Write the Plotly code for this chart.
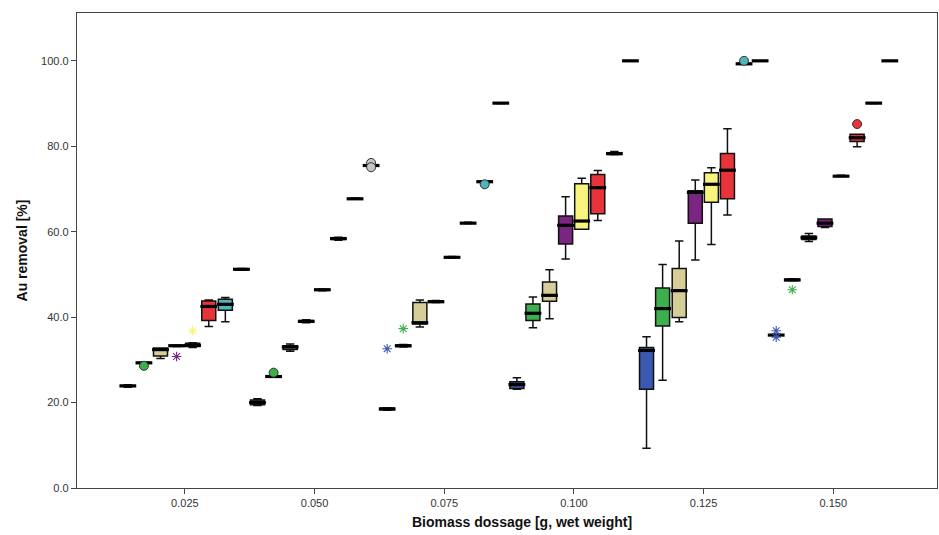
import plotly.graph_objects as go

# Biomass dose positions (g, wet weight)
doses = [0.0140, 0.0171, 0.0203, 0.0234, 0.0265, 0.0296, 0.0328, 0.0359,
         0.0390, 0.0421, 0.0453, 0.0484, 0.0515, 0.0546, 0.0578, 0.0609,
         0.0640, 0.0671, 0.0703, 0.0734, 0.0765, 0.0796, 0.0828, 0.0859,
         0.0890, 0.0921, 0.0953, 0.0984, 0.1015, 0.1046, 0.1078, 0.1109,
         0.1140, 0.1171, 0.1203, 0.1234, 0.1265, 0.1296, 0.1328, 0.1359,
         0.1390, 0.1421, 0.1453, 0.1484, 0.1515, 0.1546, 0.1578, 0.1609]

lower = [23.6, 29.2, 30.3, 33.1, 32.9, 37.8, 38.9, 51.0,
         19.3, 26.0, 32.0, 38.7, 46.2, 58.0, 67.6, 75.4,
         18.2, 33.0, 37.7, 43.4, 53.9, 61.9, 71.6, 90.0,
         23.1, 37.5, 39.6, 53.6, 60.6, 62.6, 78.0, 100.0,
         9.3, 25.2, 38.9, 53.4, 57.0, 63.9, 99.2, 100.0,
         35.7, 48.5, 57.7, 61.0, 72.9, 79.9, 90.0, 100.0]
q1 = [23.8, 29.3, 30.9, 33.2, 33.1, 39.2, 41.6, 51.1,
      19.5, 26.1, 32.4, 38.9, 46.3, 58.2, 67.7, 75.5,
      18.3, 33.1, 38.4, 43.5, 54.0, 62.0, 71.7, 90.1,
      23.3, 39.2, 43.7, 57.1, 60.6, 64.2, 78.1, 100.0,
      23.1, 37.9, 39.9, 62.0, 66.9, 67.7, 99.2, 100.0,
      35.8, 48.6, 58.2, 61.2, 73.0, 81.1, 90.1, 100.0]
median = [23.9, 29.3, 32.4, 33.3, 33.4, 42.5, 43.0, 51.2,
          20.0, 26.1, 33.0, 39.0, 46.4, 58.4, 67.7, 75.5,
          18.5, 33.3, 38.7, 43.6, 54.0, 62.0, 71.7, 90.1,
          24.2, 40.9, 45.1, 61.5, 62.5, 70.3, 78.3, 100.0,
          32.2, 42.0, 46.2, 69.2, 71.1, 74.4, 99.3, 100.0,
          35.8, 48.7, 58.6, 62.0, 73.0, 82.0, 90.1, 100.0]
q3 = [24.0, 29.4, 32.8, 33.4, 33.9, 43.8, 44.2, 51.3,
      20.6, 26.2, 33.3, 39.2, 46.5, 58.6, 67.8, 75.5,
      18.7, 33.5, 43.4, 43.8, 54.1, 62.1, 71.8, 90.1,
      24.9, 43.1, 48.2, 63.7, 71.2, 73.4, 78.5, 100.0,
      32.9, 46.8, 51.4, 69.6, 73.8, 78.3, 99.4, 100.0,
      35.9, 48.9, 59.0, 63.0, 73.1, 82.8, 90.2, 100.0]
upper = [24.2, 29.4, 32.8, 33.5, 34.0, 44.0, 44.6, 51.4,
         20.9, 26.3, 33.7, 39.4, 46.6, 58.7, 67.9, 75.6,
         18.8, 33.6, 44.0, 43.9, 54.2, 62.2, 71.9, 90.2,
         25.8, 44.7, 51.1, 68.2, 72.5, 74.3, 78.8, 100.0,
         35.4, 52.3, 57.8, 72.1, 75.0, 84.1, 99.5, 100.0,
         36.0, 49.0, 59.6, 63.0, 73.2, 82.8, 90.2, 100.0]

# colour cycle of the 8 series within each group
palette = ["#3C59B2", "#3DAF4C", "#D7CD99", "#7A2581",
           "#F8F37C", "#E8333B", "#4FB5BC", "#C4C4C4"]

# outliers: (box index, value, kind)
out_idx = [1, 3, 4, 9, 15, 15, 16, 17, 22, 38, 40, 40, 41, 45]
out_val = [28.6, 30.8, 36.8, 27.0, 76.1, 75.1, 32.6, 37.3, 71.1, 100.0, 36.8, 35.3, 46.4, 85.2]
out_kind = ["o", "*", "*", "o", "o", "o", "*", "*", "o", "o", "*", "*", "*", "o"]

BOX_W = 0.0027

fig = go.Figure()
for i, x in enumerate(doses):
    col = palette[i % 8]
    fig.add_trace(go.Box(
        x=[x], q1=[q1[i]], median=[median[i]], q3=[q3[i]],
        lowerfence=[lower[i]], upperfence=[upper[i]],
        width=BOX_W, whiskerwidth=0.6, fillcolor=col,
        line=dict(color="#111111", width=1.5),
        showlegend=False, hoverinfo="skip"))

# thick median bars
fig.add_trace(go.Scatter(
    x=doses, y=median, mode="markers",
    marker=dict(symbol="line-ew", size=12, line=dict(color="#000000", width=3.2)),
    showlegend=False, hoverinfo="skip"))

# outliers
for k, i in enumerate(out_idx):
    col = palette[i % 8]
    if out_kind[k] == "o":
        mk = dict(symbol="circle", size=9, color=col, line=dict(color="#333333", width=1))
    else:
        mk = dict(symbol="asterisk-open", size=8, color=col, line=dict(color=col, width=1.1))
    fig.add_trace(go.Scatter(x=[doses[i]], y=[out_val[k]], mode="markers",
                             marker=mk, showlegend=False, hoverinfo="skip"))

axis_font = dict(family="Liberation Sans, Arial, sans-serif", size=11, color="#333333")
title_font = dict(family="Liberation Sans, Arial, sans-serif", size=14, color="#111111")

fig.update_layout(
    width=939, height=535,
    margin=dict(l=77, r=2, t=13, b=47),
    paper_bgcolor="white", plot_bgcolor="white",
    boxmode="overlay",
    xaxis=dict(range=[0.0042, 0.17], tickvals=[0.025, 0.05, 0.075, 0.1, 0.125, 0.15],
               tickformat=".3f", ticks="outside", ticklen=5, tickcolor="#444444",
               showline=True, linecolor="#444444", linewidth=1.3, mirror=True,
               showgrid=False, zeroline=False, tickfont=axis_font),
    yaxis=dict(range=[0, 111.2], tickvals=[0, 20, 40, 60, 80, 100],
               tickformat=".1f", ticks="outside", ticklen=5, tickcolor="#444444",
               showline=True, linecolor="#444444", linewidth=1.3, mirror=True,
               showgrid=False, zeroline=False, tickfont=axis_font,
               title=dict(text="<b>Au removal [%]</b>", font=title_font, standoff=10)),
    annotations=[dict(text="<b>Biomass dossage [g, wet weight]</b>", xref="paper", yref="paper",
                      x=0.517, y=-0.072, xanchor="center", yanchor="middle",
                      showarrow=False, font=title_font)],
)

fig.write_html("out.html")
